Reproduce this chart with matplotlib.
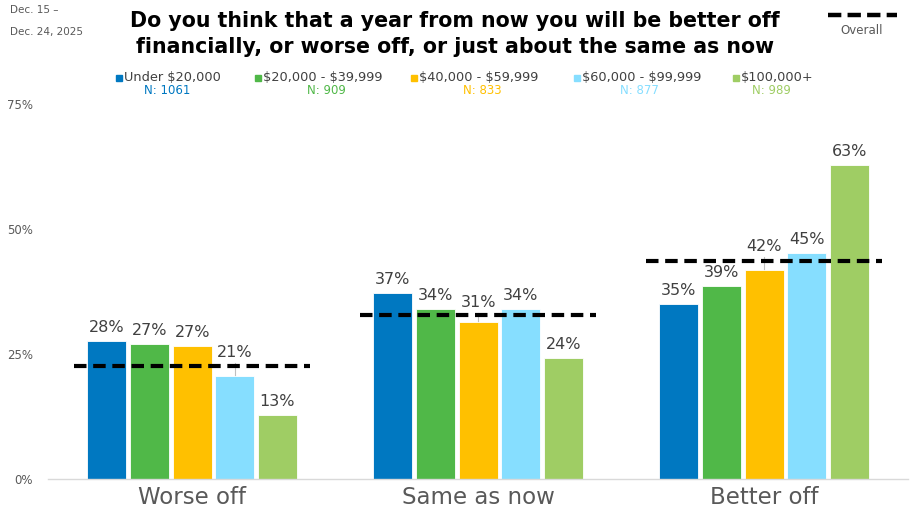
import matplotlib
matplotlib.use('Agg')
import matplotlib.pyplot as plt
from matplotlib.patches import Rectangle
import numpy as np

categories = ['Worse off', 'Same as now', 'Better off']
groups = ['Under $20,000', '$20,000 - $39,999', '$40,000 - $59,999',
          '$60,000 - $99,999', '$100,000+']
group_n = [1061, 909, 833, 877, 989]
colors = ['#0078C1', '#50B848', '#FFC000', '#86DEFF', '#9FCD64']

# values per income group, in category order
under_20k = [27.6, 37.3, 35.1]
k20_40 = [27.1, 34.1, 38.6]
k40_60 = [26.6, 31.4, 41.9]
k60_100 = [20.6, 34.0, 45.3]
over_100k = [12.8, 24.3, 62.8]
overall = [22.7, 32.9, 43.7]
series = [under_20k, k20_40, k40_60, k60_100, over_100k]

W, H = 911, 525
plt.rcParams['font.family'] = ['DejaVu Sans']
plt.rcParams['text.parse_math'] = False
fig = plt.figure(figsize=(W / 100, H / 100), dpi=100)
ax = fig.add_axes([48 / W, 1 - 479.3 / H, 860 / W, 375 / H])

def px(x, y):
    return x / W, 1 - y / H

step = 0.149
width = 0.136
x = np.arange(len(categories))
# labels that were lifted above the overall line, with a leader line
lifted = {(0, 3): 2.0, (1, 2): 1.2, (2, 2): 1.9}
for i, vals in enumerate(series):
    xs = x + (i - 2) * step
    ax.bar(xs, vals, width, color=colors[i], edgecolor='white', linewidth=0.6, zorder=2)
    for j, v in enumerate(vals):
        lift = lifted.get((j, i), 0)
        ty = v + 2.7 + lift
        if lift:
            ax.plot([xs[j], xs[j]], [v, ty - 2.0], color='#BFBFBF', lw=0.8, zorder=1)
        ax.text(xs[j], ty, f'{v:.0f}%', ha='center', va='center', fontsize=11.5,
                color='#404040', zorder=4)

for j, v in enumerate(overall):
    ax.plot([x[j] - 0.413, x[j] + 0.413], [v, v], color='black', lw=3,
            linestyle=(0, (3, 1.6)), zorder=3)

ax.set_xlim(-0.504, 2.503)
ax.set_ylim(0, 75)
ax.set_yticks([0, 25, 50, 75])
ax.set_yticklabels(['0%', '25%', '50%', '75%'], fontsize=8.5, color='#595959')
ax.tick_params(axis='y', length=0, pad=11)
ax.set_xticks(x)
ax.set_xticklabels(categories, fontsize=16.5, color='#595959')
ax.tick_params(axis='x', length=0, pad=5)
for s in ['top', 'right', 'left']:
    ax.spines[s].set_visible(False)
ax.spines['bottom'].set_color('#D9D9D9')
ax.spines['bottom'].set_linewidth(1)

# title and date
fig.text(*px(455, 21), 'Do you think that a year from now you will be better off',
         ha='center', va='center', fontsize=14.8, fontweight='bold', color='black')
fig.text(*px(455, 47), 'financially, or worse off, or just about the same as now',
         ha='center', va='center', fontsize=14.8, fontweight='bold', color='black')
fig.text(*px(10, 10), 'Dec. 15 \u2013', ha='left', va='center', fontsize=7.5, color='#595959')
fig.text(*px(10, 32), 'Dec. 24, 2025', ha='left', va='center', fontsize=7.5, color='#595959')

# series legend
sq_x = [116, 255, 411, 574, 733]
n_x = [167, 326, 482, 639, 771]
for i, g in enumerate(groups):
    fig.patches.append(Rectangle(px(sq_x[i], 81), 6 / W, 6 / H, color=colors[i],
                                 transform=fig.transFigure, figure=fig))
    fig.text(*px(sq_x[i] + 8, 77), g, ha='left', va='center', fontsize=9.3, color='#404040')
    fig.text(*px(n_x[i], 90), f'N: {group_n[i]}', ha='center', va='center',
             fontsize=8.5, color=colors[i])

# overall legend
fig.add_artist(plt.Line2D([828 / W, 897 / W], [1 - 14.5 / H, 1 - 14.5 / H], color='black',
                          lw=3.2, linestyle=(0, (3, 1.4)), transform=fig.transFigure))
fig.text(*px(862, 30), 'Overall', ha='center', va='center', fontsize=8.5, color='#595959')

fig.savefig('out.png', dpi=100)
